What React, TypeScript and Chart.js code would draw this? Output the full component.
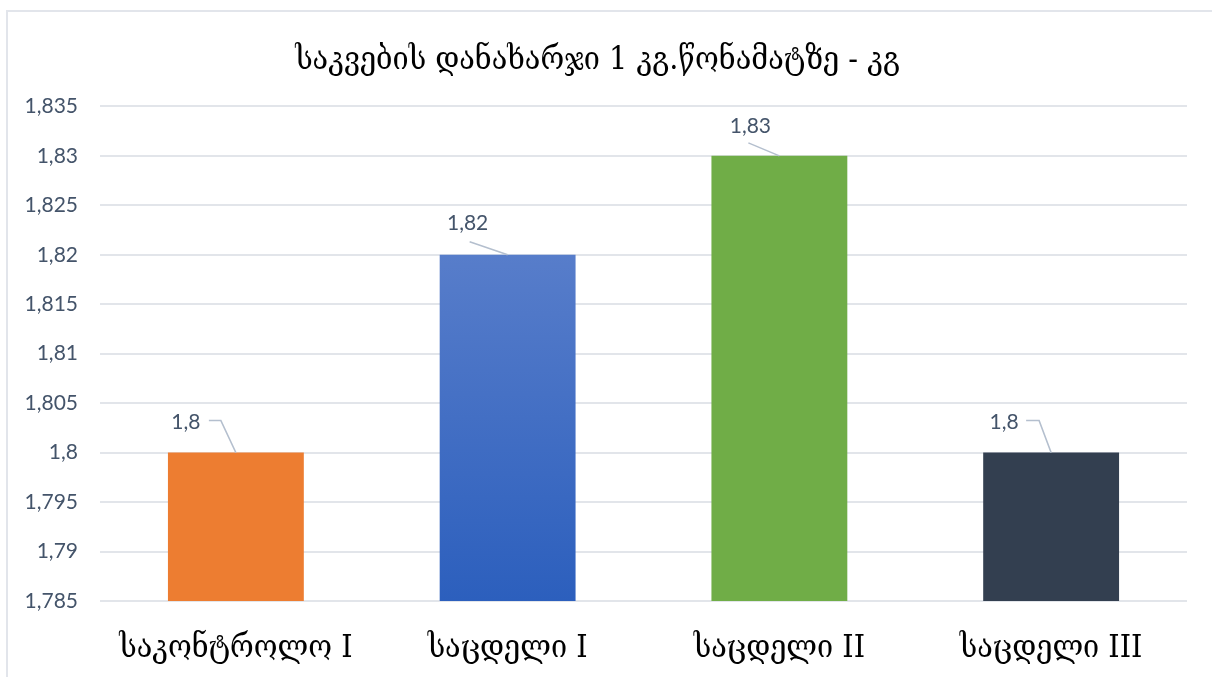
import React, { useEffect, useRef } from "react";
import { Chart, registerables } from "chart.js";

Chart.register(...registerables);

const title = "საკვების დანახარჯი 1 კგ.წონამატზე - კგ";
const categories = ["საკონტროლო I", "საცდელი I", "საცდელი II", "საცდელი III"];
const values = [1.8, 1.82, 1.83, 1.8];
const yMin = 1.785;
const yMax = 1.835;
const yStep = 0.005;

const barColors = ["#ed7d31", "blue-gradient", "#70ad47", "#333f50"];
const textColor = "#44546a";
const leaderColor = "#b4bfce";

// label offsets from the bar top (px) and the leader-line path to the bar
const labelOffsets = [
  { dx: -50, dy: -30, path: [[-27, -32], [-15, -32], [0, 0]] },
  { dx: -40, dy: -32, path: [[-38, -13], [0, 0]] },
  { dx: -29, dy: -30, path: [[-31, -13], [0, 0]] },
  { dx: -47, dy: -30, path: [[-25, -32], [-12, -32], [0, 0]] },
];

const fmt = (v: number) => String(+v.toFixed(3)).replace(".", ",");

const valueLabels = {
  id: "valueLabels",
  afterDatasetsDraw(chart: any) {
    const ctx = chart.ctx;
    const meta = chart.getDatasetMeta(0);
    ctx.save();
    meta.data.forEach((bar: any, i: number) => {
      const o = labelOffsets[i];
      const x = bar.x;
      const y = bar.y;
      ctx.strokeStyle = leaderColor;
      ctx.lineWidth = 1.5;
      ctx.beginPath();
      o.path.forEach((p, k) => {
        if (k === 0) ctx.moveTo(x + p[0], y + p[1]);
        else ctx.lineTo(x + p[0], y + p[1]);
      });
      ctx.stroke();
      ctx.fillStyle = textColor;
      ctx.font = "21px Lato";
      ctx.textAlign = "center";
      ctx.textBaseline = "middle";
      ctx.fillText(fmt(values[i]), x + o.dx, y + o.dy);
    });
    ctx.restore();
  },
};

export default function App() {
  const ref = useRef<HTMLCanvasElement | null>(null);

  useEffect(() => {
    const canvas = ref.current!;
    const chart = new Chart(canvas, {
      type: "bar",
      data: {
        labels: categories,
        datasets: [
          {
            data: values,
            backgroundColor: (c: any) => {
              const col = barColors[c.dataIndex];
              if (col !== "blue-gradient") return col;
              const area = c.chart.chartArea;
              if (!area) return "#4472c4";
              const g = c.chart.ctx.createLinearGradient(0, area.top, 0, area.bottom);
              g.addColorStop(0, "#6a8ad0");
              g.addColorStop(1, "#2c5fbd");
              return g;
            },
            barPercentage: 0.5,
            categoryPercentage: 1,
          },
        ],
      },
      options: {
        responsive: false,
        animation: false,
        layout: { padding: { left: 0, right: 25, top: 0, bottom: 0 } },
        plugins: {
          legend: { display: false },
          tooltip: { enabled: false },
          title: {
            display: true,
            text: title,
            color: "#000000",
            font: { family: "DejaVu Serif Condensed", size: 32, weight: "normal" },
            padding: { top: 29, bottom: 27 },
          },
        },
        scales: {
          x: {
            grid: { display: false, drawTicks: false },
            border: { display: false },
            ticks: {
              color: "#000000",
              font: { family: "DejaVu Serif Condensed", size: 32 },
              padding: 28,
            },
            afterFit(axis: any) {
              axis.height = 76;
            },
          },
          y: {
            min: yMin,
            max: yMax,
            grid: { color: "#e2e5ea", lineWidth: 2, drawTicks: false },
            border: { display: false },
            ticks: {
              stepSize: yStep,
              color: textColor,
              font: { family: "Lato", size: 21 },
              padding: 22,
              callback: (v: any) => fmt(Number(v)),
            },
            afterFit(axis: any) {
              axis.width = 92;
            },
          },
        },
      },
      plugins: [valueLabels],
    });
    return () => chart.destroy();
  }, []);

  return (
    <div
      style={{
        position: "fixed",
        left: 6,
        top: 10,
        width: 1230,
        height: 690,
        borderLeft: "2px solid #e2e5eb",
        borderTop: "2px solid #e2e5eb",
        background: "#ffffff",
      }}
    >
      <canvas ref={ref} width={1204} height={665} style={{ display: "block" }} />
    </div>
  );
}
